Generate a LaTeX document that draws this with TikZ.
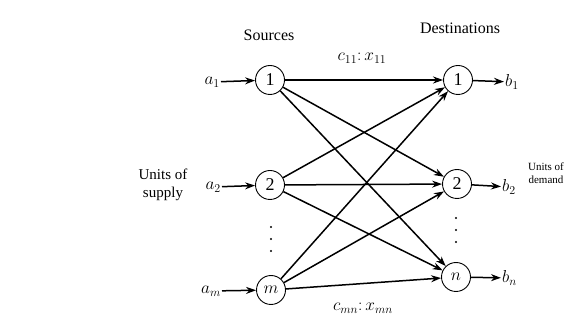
\documentclass[tikz,border=0pt]{standalone}
\usepackage{amsmath,amssymb}
\usepackage{fontspec}
\setmainfont{Liberation Serif}
\usetikzlibrary{arrows.meta,positioning}

\begin{document}
\begin{tikzpicture}[x=1pt, y=-1pt,
  place/.style={draw, circle, line width=0.9pt, minimum size=29pt, inner sep=0pt,
                font=\fontsize{18}{18}\selectfont},
  route/.style={line width=1.5pt, -{Stealth[length=10pt,width=7pt]}},
  flow/.style={line width=1.5pt, -{Stealth[length=10pt,width=7pt]}},
  lab/.style={font=\fontsize{17}{17}\selectfont, inner sep=1pt},
  head/.style={font=\fontsize{16}{16}\selectfont},
  dot/.style={circle, fill, inner sep=0pt, minimum size=2.2pt},
]
\useasboundingbox (0,0) rectangle (573,328);

% sources and destinations
\node[place] (s1) at (270,80)  {1};
\node[place] (s2) at (270,185) {2};
\node[place] (sm) at (271,290) {$m$};
\node[place] (d1) at (458,80)  {1};
\node[place] (d2) at (457,184) {2};
\node[place] (dn) at (456,277) {$n$};

\node[head] (src) at (269,35) {Sources};
\node[head] (dst) at (460,28) {Destinations};

% supplies and demands
\node[lab, anchor=east] (a1) at (221,82)  {$a_1$};
\node[lab, anchor=east] (a2) at (222,187) {$a_2$};
\node[lab, anchor=east] (am) at (222,291) {$a_m$};
\node[lab, anchor=west] (b1) at (504,82)  {$b_1$};
\node[lab, anchor=west] (b2) at (501,187) {$b_2$};
\node[lab, anchor=west] (bn) at (501,278) {$b_n$};

\draw[flow] (a1) -- (s1);
\draw[flow] (a2) -- (s2);
\draw[flow] (am) -- (sm);
\draw[flow] (d1) -- (b1);
\draw[flow] (d2) -- (b2);
\draw[flow] (dn) -- (bn);

% every source to every destination
\foreach \s in {s1,s2,sm}
  \foreach \d in {d1,d2,dn}
    \draw[route] (\s) -- (\d);

\node[lab] (c11) at (362,58)  {$c_{11}{:}\,x_{11}$};
\node[lab] (cmn) at (363,308) {$c_{mn}{:}\,x_{mn}$};

% vertical dots
\foreach \y in {227,239,251}
  \node[dot] at (271,\y) {};
\foreach \y in {218,230,242}
  \node[dot] at (456,\y) {};

\node[align=center, font=\fontsize{15}{18}\selectfont] (sup) at (163,185) {Units of\\supply};
\node[align=center, font=\fontsize{11}{13}\selectfont] (dem) at (546,173) {Units of\\demand};
\end{tikzpicture}
\end{document}
